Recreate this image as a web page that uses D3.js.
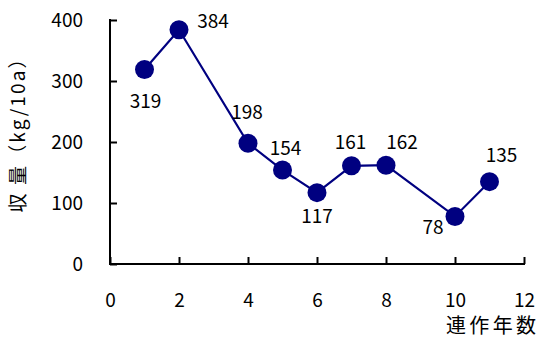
<!DOCTYPE html>
<html>
<head>
<meta charset="utf-8">
<script src="https://cdn.jsdelivr.net/npm/d3@7"></script>
<style>
  html, body { margin: 0; padding: 0; background: #fff; }
  svg { display: block; }
  text { font-family: "Noto Sans CJK JP", "Liberation Sans", sans-serif; fill: #000; }
</style>
</head>
<body>
<svg id="chart" width="542" height="339"></svg>
<script>
// Years of continuous cropping and the yield in each year (kg/10a)
const years  = [1, 2, 4, 5, 6, 7, 8, 10, 11];
const yields = [319, 384, 198, 154, 117, 161, 162, 78, 135];

const xTicks = [0, 2, 4, 6, 8, 10, 12];
const yTicks = [0, 100, 200, 300, 400];

const xTitle = "連作年数";
const yTitle = "収 量（kg/10a）";

// Where each value label sits relative to its marker (dx, dy in px)
const labelOffsets = [
  [1, 32], [34, -8], [-1, -31], [3, -22], [0, 24],
  [-1, -23], [16, -23], [-22, 11], [12, -26]
];

const svg = d3.select("#chart");
const navy = "#000080";

const x = d3.scaleLinear().domain([0, 12]).range([110, 524]);
const y = d3.scaleLinear().domain([0, 400]).range([264, 20]);

// X axis (ticks point inward / up)
const xAxis = svg.append("g")
  .attr("transform", `translate(0,${y(0)})`)
  .call(d3.axisBottom(x).tickValues(xTicks).tickSize(-7).tickPadding(0).tickFormat(d3.format("d")));
xAxis.select(".domain").remove();
xAxis.append("line")
  .attr("x1", x(0) - 1).attr("x2", x(12) + 1)
  .attr("stroke", "#000").attr("stroke-width", 2);
xAxis.selectAll(".tick line").attr("stroke", "#000").attr("stroke-width", 2);
xAxis.selectAll(".tick text")
  .attr("y", 43).attr("dy", null)
  .style("font-size", "19px").attr("fill", "#000");

// Y axis (ticks point inward / right)
const yAxis = svg.append("g")
  .attr("transform", `translate(${x(0)},0)`)
  .call(d3.axisLeft(y).tickValues(yTicks).tickSize(-7).tickPadding(0).tickFormat(d3.format("d")));
yAxis.select(".domain").remove();
yAxis.append("line")
  .attr("y1", y(400) - 1).attr("y2", y(0) + 1)
  .attr("stroke", "#000").attr("stroke-width", 2);
yAxis.selectAll(".tick line").attr("stroke", "#000").attr("stroke-width", 2);
yAxis.selectAll(".tick text")
  .attr("x", -27).attr("dy", "0.35em")
  .style("font-size", "19px").attr("fill", "#000");

// Axis titles
svg.append("text")
  .attr("x", 446).attr("y", 333)
  .attr("text-anchor", "start")
  .style("font-size", "20px")
  .attr("textLength", 90)
  .attr("lengthAdjust", "spacing")
  .text(xTitle);

svg.append("text")
  .attr("transform", `translate(25,${131}) rotate(-90)`)
  .attr("text-anchor", "middle")
  .style("font-size", "19px")
  .attr("textLength", 163)
  .attr("lengthAdjust", "spacing")
  .text(yTitle);

// Line and markers
const pts = years.map((d, i) => ({ x: d, y: yields[i], off: labelOffsets[i] }));

svg.append("path")
  .datum(pts)
  .attr("fill", "none")
  .attr("stroke", navy)
  .attr("stroke-width", 2.2)
  .attr("d", d3.line().x(d => x(d.x)).y(d => y(d.y)));

svg.selectAll("circle.pt")
  .data(pts)
  .join("circle")
  .attr("class", "pt")
  .attr("cx", d => x(d.x))
  .attr("cy", d => y(d.y))
  .attr("r", 9.5)
  .attr("fill", navy);

// Value labels
svg.selectAll("text.val")
  .data(pts)
  .join("text")
  .attr("class", "val")
  .attr("x", d => x(d.x) + d.off[0])
  .attr("y", d => y(d.y) + d.off[1])
  .attr("dy", "0.35em")
  .attr("text-anchor", "middle")
  .style("font-size", "19px")
  .text(d => d.y);
</script>
</body>
</html>
